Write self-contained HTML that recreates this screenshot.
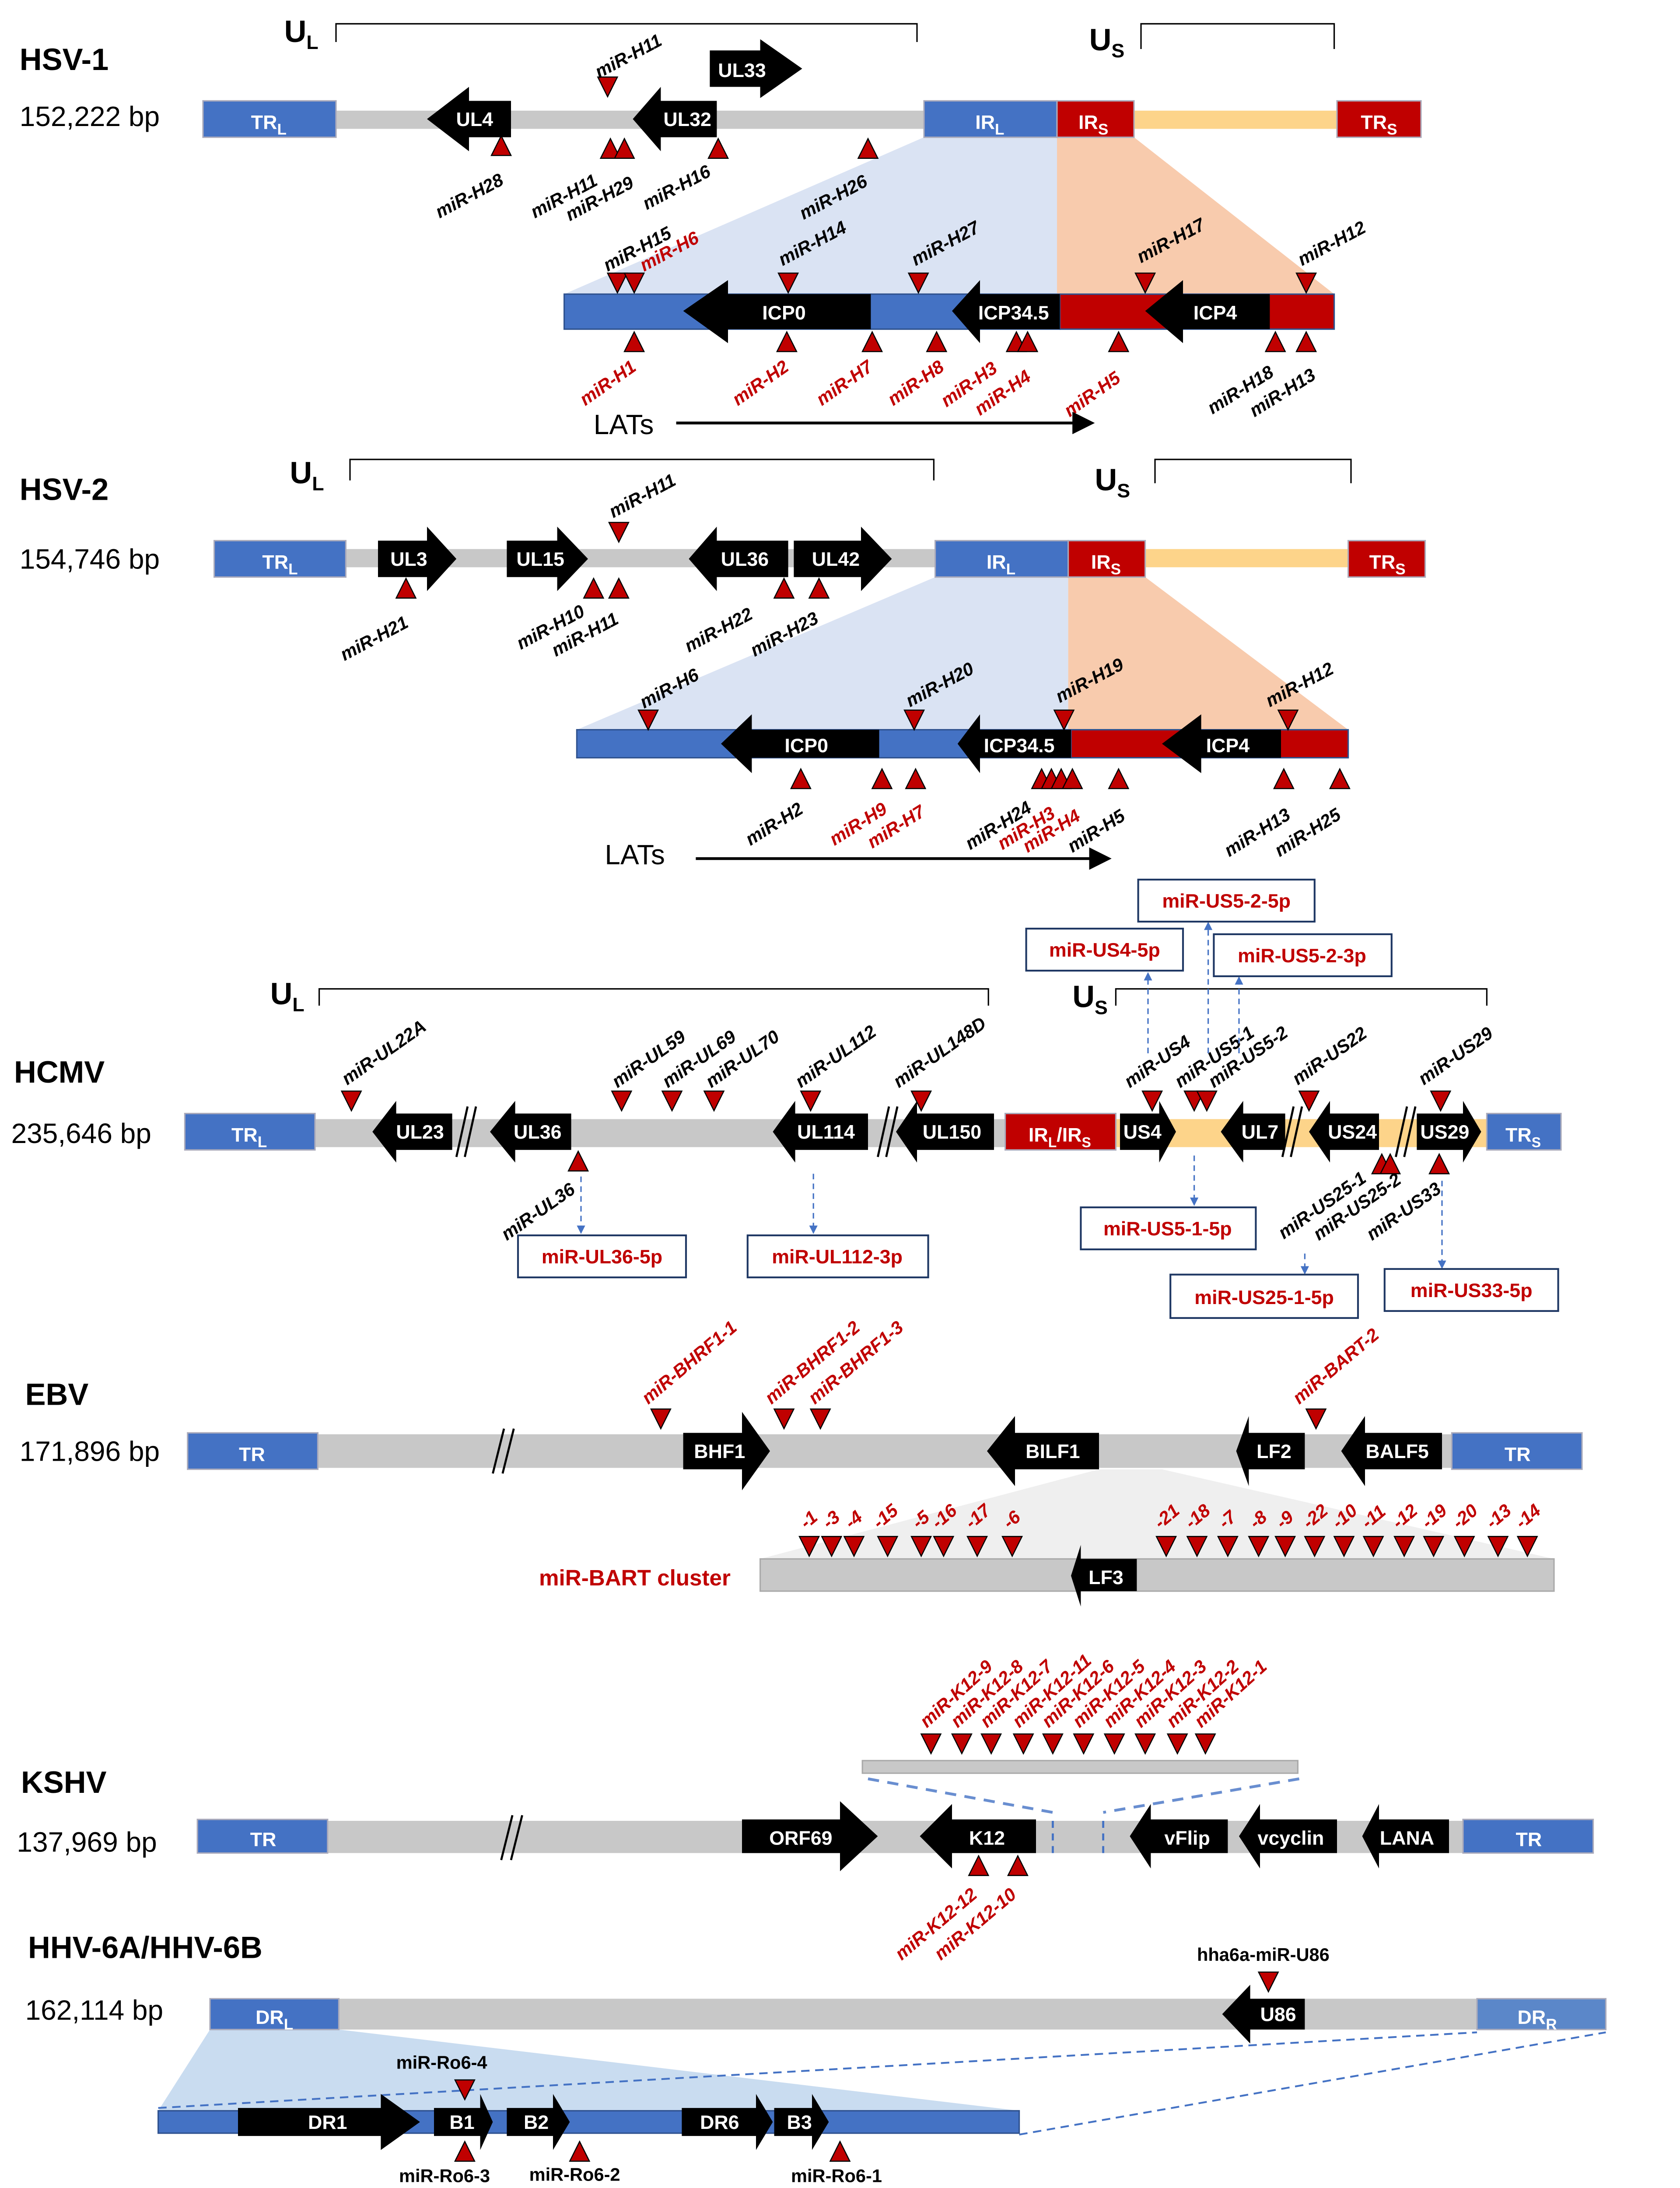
<!DOCTYPE html>
<html><head><meta charset="utf-8"><style>
html,body{margin:0;padding:0;background:#fff;overflow:hidden}
svg{display:block}
text{font-family:"Liberation Sans",sans-serif}
.t{font-weight:bold;font-size:22px}
.bp{font-size:20px}
.g{fill:#fff;font-weight:bold;font-size:14px;text-anchor:middle}
.m{font-weight:bold;font-style:italic;font-size:13px}
.r{fill:#c00000}
.bx{fill:#fff;stroke:#1f3864;stroke-width:1.3}
.bt{fill:#c00000;font-weight:bold;font-size:14px;text-anchor:middle}
.tri{fill:#c00000;stroke:#000;stroke-width:0.8}
.bb{fill:#c8c8c8}
.bl{fill:#4472c4;stroke:#aab;stroke-width:1}
.rd{fill:#c00000;stroke:#aab;stroke-width:1}
.da{stroke:#4472c4;stroke-width:1;stroke-dasharray:4,3;fill:none}
</style></head><body>
<svg width="3840" height="5230" viewBox="0 0 1200 1634" preserveAspectRatio="none" xmlns="http://www.w3.org/2000/svg">
<defs>
<marker id="ah" markerWidth="6" markerHeight="6" refX="3" refY="3" orient="auto"><path d="M0,0 L6,3 L0,6z" fill="#4472c4"/></marker>
<marker id="ak" markerWidth="8" markerHeight="8" refX="6" refY="4" orient="auto"><path d="M0,0 L8,4 L0,8z" fill="#000"/></marker>
<path id="dt" d="M-7,-7 L7,-7 L0,7z"/>
<path id="ut" d="M-7,7 L7,7 L0,-7z"/>
</defs>

<!-- ================= HSV-1 ================= -->
<text x="14" y="50" class="t">HSV-1</text>
<text x="14" y="90" class="bp">152,222 bp</text>
<path d="M240,30 L240,17 L655,17 L655,30" fill="none" stroke="#000" stroke-width="1"/>
<text x="203" y="30" font-size="22" font-weight="bold">U<tspan font-size="14" dy="5">L</tspan></text>
<path d="M815,35 L815,17 L953,17 L953,35" fill="none" stroke="#000" stroke-width="1"/>
<text x="778" y="36" font-size="22" font-weight="bold">U<tspan font-size="14" dy="5">S</tspan></text>
<polygon points="403,210 660,98 755,98 755,210" fill="#dae3f3"/>
<polygon points="755,98 810,98 953,210 755,210" fill="#f8cbad"/>
<rect x="240" y="79" width="420" height="13" class="bb"/>
<rect x="810" y="79" width="145" height="13" fill="#fdd48a"/>
<rect x="145" y="72" width="95" height="26" class="bl"/><text x="192" y="92" class="g" font-size="17">TR<tspan font-size="11" dy="4">L</tspan></text>
<rect x="660" y="72" width="95" height="26" class="bl"/><text x="707" y="92" class="g" font-size="17">IR<tspan font-size="11" dy="4">L</tspan></text>
<rect x="755" y="72" width="55" height="26" class="rd"/><text x="781" y="92" class="g" font-size="17">IR<tspan font-size="11" dy="4">S</tspan></text>
<rect x="955" y="72" width="60" height="26" class="rd"/><text x="985" y="92" class="g" font-size="17">TR<tspan font-size="11" dy="4">S</tspan></text>
<polygon points="305,85 335,62 335,72 365,72 365,98 335,98 335,108"/><text x="339" y="90" class="g">UL4</text>
<polygon points="452,85 472,62 472,72 512,72 512,98 472,98 472,108"/><text x="491" y="90" class="g">UL32</text>
<polygon points="507,36 543,36 543,28 573,49 543,70 543,62 507,62"/><text x="530" y="55" class="g">UL33</text>
<use href="#dt" x="434" y="62" class="tri"/>
<use href="#ut" x="358" y="104" class="tri"/><use href="#ut" x="436" y="106" class="tri"/><use href="#ut" x="446" y="106" class="tri"/><use href="#ut" x="513" y="106" class="tri"/><use href="#ut" x="620" y="106" class="tri"/>
<text class="m" transform="translate(428,56) rotate(-28)">miR-H11</text>
<text class="m" transform="translate(314,156) rotate(-28)">miR-H28</text>
<text class="m" transform="translate(382,156) rotate(-28)">miR-H11</text>
<text class="m" transform="translate(407,158) rotate(-28)">miR-H29</text>
<text class="m" transform="translate(462,150) rotate(-28)">miR-H16</text>
<text class="m" transform="translate(574,157) rotate(-28)">miR-H26</text>
<rect x="403" y="210" width="354" height="25" fill="#4472c4" stroke="#2f528f"/>
<rect x="757" y="210" width="196" height="25" fill="#c00000" stroke="#2f528f"/>
<polygon points="488,222 520,200 520,210 622,210 622,235 520,235 520,245"/><text x="560" y="228" class="g">ICP0</text>
<polygon points="680,222 700,200 700,210 757,210 757,235 700,235 700,245"/><text x="724" y="228" class="g">ICP34.5</text>
<polygon points="818,222 845,200 845,210 907,210 907,235 845,235 845,245"/><text x="868" y="228" class="g">ICP4</text>
<use href="#dt" x="441" y="202" class="tri"/><use href="#dt" x="453" y="202" class="tri"/><use href="#dt" x="563" y="202" class="tri"/><use href="#dt" x="656" y="202" class="tri"/><use href="#dt" x="818" y="202" class="tri"/><use href="#dt" x="933" y="202" class="tri"/>
<text class="m" transform="translate(434,194) rotate(-28)">miR-H15</text>
<text class="m r" transform="translate(460,194) rotate(-28)">miR-H6</text>
<text class="m" transform="translate(559,190) rotate(-28)">miR-H14</text>
<text class="m" transform="translate(654,190) rotate(-28)">miR-H27</text>
<text class="m" transform="translate(815,188) rotate(-28)">miR-H17</text>
<text class="m" transform="translate(930,190) rotate(-28)">miR-H12</text>
<use href="#ut" x="453" y="244" class="tri"/><use href="#ut" x="562" y="244" class="tri"/><use href="#ut" x="623" y="244" class="tri"/><use href="#ut" x="669" y="244" class="tri"/><use href="#ut" x="726" y="244" class="tri"/><use href="#ut" x="734" y="244" class="tri"/><use href="#ut" x="799" y="244" class="tri"/><use href="#ut" x="911" y="244" class="tri"/><use href="#ut" x="933" y="244" class="tri"/>
<text class="m r" transform="translate(418,290) rotate(-35)">miR-H1</text>
<text class="m r" transform="translate(527,290) rotate(-35)">miR-H2</text>
<text class="m r" transform="translate(587,290) rotate(-35)">miR-H7</text>
<text class="m r" transform="translate(638,290) rotate(-35)">miR-H8</text>
<text class="m r" transform="translate(676,291) rotate(-35)">miR-H3</text>
<text class="m r" transform="translate(700,297) rotate(-35)">miR-H4</text>
<text class="m r" transform="translate(764,298) rotate(-35)">miR-H5</text>
<text class="m" transform="translate(866,296) rotate(-32)">miR-H18</text>
<text class="m" transform="translate(896,298) rotate(-32)">miR-H13</text>
<text x="424" y="310" font-size="20">LATs</text>
<line x1="483" y1="302" x2="778" y2="302" stroke="#000" stroke-width="2" marker-end="url(#ak)"/>

<!-- ================= HSV-2 ================= -->
<text x="14" y="357" class="t">HSV-2</text>
<text x="14" y="406" class="bp">154,746 bp</text>
<path d="M250,343 L250,328 L667,328 L667,343" fill="none" stroke="#000"/>
<text x="207" y="345" font-size="22" font-weight="bold">U<tspan font-size="14" dy="5">L</tspan></text>
<path d="M825,345 L825,328 L965,328 L965,345" fill="none" stroke="#000"/>
<text x="782" y="350" font-size="22" font-weight="bold">U<tspan font-size="14" dy="5">S</tspan></text>
<polygon points="412,521 668,412 763,412 763,521" fill="#dae3f3"/>
<polygon points="763,412 818,412 963,521 763,521" fill="#f8cbad"/>
<rect x="247" y="392" width="421" height="13" class="bb"/>
<rect x="818" y="392" width="145" height="13" fill="#fdd48a"/>
<rect x="153" y="386" width="94" height="26" class="bl"/><text x="200" y="406" class="g" font-size="17">TR<tspan font-size="11" dy="4">L</tspan></text>
<rect x="668" y="386" width="95" height="26" class="bl"/><text x="715" y="406" class="g" font-size="17">IR<tspan font-size="11" dy="4">L</tspan></text>
<rect x="763" y="386" width="55" height="26" class="rd"/><text x="790" y="406" class="g" font-size="17">IR<tspan font-size="11" dy="4">S</tspan></text>
<rect x="963" y="386" width="55" height="26" class="rd"/><text x="991" y="406" class="g" font-size="17">TR<tspan font-size="11" dy="4">S</tspan></text>
<polygon points="270,386 305,386 305,376 326,399 305,422 305,412 270,412"/><text x="292" y="404" class="g">UL3</text>
<polygon points="362,386 398,386 398,376 420,399 398,422 398,412 362,412"/><text x="386" y="404" class="g">UL15</text>
<polygon points="492,399 512,376 512,386 563,386 563,412 512,412 512,422"/><text x="532" y="404" class="g">UL36</text>
<polygon points="567,386 615,386 615,376 637,399 615,422 615,412 567,412"/><text x="597" y="404" class="g">UL42</text>
<use href="#dt" x="442" y="380" class="tri"/>
<use href="#ut" x="290" y="420" class="tri"/><use href="#ut" x="424" y="420" class="tri"/><use href="#ut" x="442" y="420" class="tri"/><use href="#ut" x="560" y="420" class="tri"/><use href="#ut" x="585" y="420" class="tri"/>
<text class="m" transform="translate(438,370) rotate(-28)">miR-H11</text>
<text class="m" transform="translate(246,472) rotate(-28)">miR-H21</text>
<text class="m" transform="translate(372,464) rotate(-28)">miR-H10</text>
<text class="m" transform="translate(397,469) rotate(-28)">miR-H11</text>
<text class="m" transform="translate(492,466) rotate(-28)">miR-H22</text>
<text class="m" transform="translate(539,469) rotate(-28)">miR-H23</text>
<rect x="412" y="521" width="353" height="20" fill="#4472c4" stroke="#2f528f"/>
<rect x="765" y="521" width="198" height="20" fill="#c00000" stroke="#2f528f"/>
<polygon points="515,531 537,510 537,521 628,521 628,541 537,541 537,552"/><text x="576" y="537" class="g">ICP0</text>
<polygon points="684,531 700,510 700,521 765,521 765,541 700,541 700,552"/><text x="728" y="537" class="g">ICP34.5</text>
<polygon points="830,531 858,510 858,521 915,521 915,541 858,541 858,552"/><text x="877" y="537" class="g">ICP4</text>
<use href="#dt" x="463" y="514" class="tri"/><use href="#dt" x="653" y="514" class="tri"/><use href="#dt" x="760" y="514" class="tri"/><use href="#dt" x="920" y="514" class="tri"/>
<text class="m" transform="translate(460,506) rotate(-28)">miR-H6</text>
<text class="m" transform="translate(650,505) rotate(-28)">miR-H20</text>
<text class="m" transform="translate(757,502) rotate(-28)">miR-H19</text>
<text class="m" transform="translate(907,505) rotate(-28)">miR-H12</text>
<use href="#ut" x="572" y="556" class="tri"/><use href="#ut" x="630" y="556" class="tri"/><use href="#ut" x="654" y="556" class="tri"/><use href="#ut" x="744" y="556" class="tri"/><use href="#ut" x="751" y="556" class="tri"/><use href="#ut" x="758" y="556" class="tri"/><use href="#ut" x="766" y="556" class="tri"/><use href="#ut" x="799" y="556" class="tri"/><use href="#ut" x="917" y="556" class="tri"/><use href="#ut" x="957" y="556" class="tri"/>
<text class="m" transform="translate(536,604) rotate(-32)">miR-H2</text>
<text class="m r" transform="translate(596,604) rotate(-32)">miR-H9</text>
<text class="m r" transform="translate(623,606) rotate(-32)">miR-H7</text>
<text class="m" transform="translate(693,607) rotate(-32)">miR-H24</text>
<text class="m r" transform="translate(716,607) rotate(-32)">miR-H3</text>
<text class="m r" transform="translate(734,609) rotate(-32)">miR-H4</text>
<text class="m" transform="translate(766,609) rotate(-32)">miR-H5</text>
<text class="m" transform="translate(878,612) rotate(-32)">miR-H13</text>
<text class="m" transform="translate(914,612) rotate(-32)">miR-H25</text>
<text x="432" y="617" font-size="20">LATs</text>
<line x1="497" y1="613" x2="790" y2="613" stroke="#000" stroke-width="2" marker-end="url(#ak)"/>

<!-- ================= HCMV ================= -->
<text x="10" y="773" class="t">HCMV</text>
<text x="8" y="816" class="bp">235,646 bp</text>
<path d="M228,718 L228,706 L706,706 L706,718" fill="none" stroke="#000"/>
<text x="193" y="717" font-size="22" font-weight="bold">U<tspan font-size="14" dy="5">L</tspan></text>
<path d="M797,718 L797,706 L1062,706 L1062,718" fill="none" stroke="#000"/>
<text x="766" y="719" font-size="22" font-weight="bold">U<tspan font-size="14" dy="5">S</tspan></text>
<rect x="225" y="799" width="493" height="20" class="bb"/>
<rect x="797" y="799" width="265" height="20" fill="#fdd48a"/>
<rect x="132" y="795" width="93" height="26" class="bl"/><text x="178" y="815" class="g" font-size="17">TR<tspan font-size="11" dy="4">L</tspan></text>
<rect x="718" y="795" width="79" height="26" class="rd"/><text x="757" y="815" class="g" font-size="15">IR<tspan font-size="10" dy="4">L</tspan><tspan dy="-4">/IR</tspan><tspan font-size="10" dy="4">S</tspan></text>
<rect x="1062" y="795" width="53" height="26" class="bl"/><text x="1088" y="815" class="g" font-size="16">TR<tspan font-size="10" dy="4">S</tspan></text>
<g fill="#fff" stroke="#000" stroke-width="1.5">
<path d="M326,826 L334,790 M332,826 L340,790"/>
<path d="M627,826 L635,790 M633,826 L641,790"/>
<path d="M916,826 L924,790 M922,826 L930,790"/>
<path d="M997,826 L1005,790 M1003,826 L1011,790"/>
</g>
<polygon points="266,808 283,786 283,795 323,795 323,821 283,821 283,830"/><text x="300" y="813" class="g">UL23</text>
<polygon points="350,808 368,786 368,795 408,795 408,821 368,821 368,830"/><text x="384" y="813" class="g">UL36</text>
<polygon points="552,808 568,786 568,795 620,795 620,821 568,821 568,830"/><text x="590" y="813" class="g">UL114</text>
<polygon points="640,808 655,786 655,795 710,795 710,821 655,821 655,830"/><text x="680" y="813" class="g">UL150</text>
<polygon points="800,795 828,795 828,786 840,808 828,830 828,821 800,821"/><text x="816" y="813" class="g">US4</text>
<polygon points="872,808 888,786 888,795 918,795 918,821 888,821 888,830"/><text x="900" y="813" class="g">UL7</text>
<polygon points="935,808 950,786 950,795 985,795 985,821 950,821 950,830"/><text x="966" y="813" class="g">US24</text>
<polygon points="1012,795 1045,795 1045,786 1058,808 1045,830 1045,821 1012,821"/><text x="1032" y="813" class="g">US29</text>
<use href="#dt" x="251" y="786" class="tri"/><use href="#dt" x="444" y="786" class="tri"/><use href="#dt" x="480" y="786" class="tri"/><use href="#dt" x="510" y="786" class="tri"/><use href="#dt" x="579" y="786" class="tri"/><use href="#dt" x="658" y="786" class="tri"/><use href="#dt" x="823" y="786" class="tri"/><use href="#dt" x="853" y="786" class="tri"/><use href="#dt" x="862" y="786" class="tri"/><use href="#dt" x="935" y="786" class="tri"/><use href="#dt" x="1029" y="786" class="tri"/>
<text class="m" transform="translate(248,775) rotate(-35)">miR-UL22A</text>
<text class="m" transform="translate(441,777) rotate(-35)">miR-UL59</text>
<text class="m" transform="translate(477,777) rotate(-35)">miR-UL69</text>
<text class="m" transform="translate(508,777) rotate(-35)">miR-UL70</text>
<text class="m" transform="translate(572,777) rotate(-35)">miR-UL112</text>
<text class="m" transform="translate(642,777) rotate(-35)">miR-UL148D</text>
<text class="m" transform="translate(807,777) rotate(-35)">miR-US4</text>
<text class="m" transform="translate(843,777) rotate(-35)">miR-US5-1</text>
<text class="m" transform="translate(867,777) rotate(-35)">miR-US5-2</text>
<text class="m" transform="translate(927,775) rotate(-35)">miR-US22</text>
<text class="m" transform="translate(1017,775) rotate(-35)">miR-US29</text>
<use href="#ut" x="413" y="829" class="tri"/><use href="#ut" x="987" y="831" class="tri"/><use href="#ut" x="993" y="831" class="tri"/><use href="#ut" x="1028" y="831" class="tri"/>
<text class="m" transform="translate(362,886) rotate(-35)">miR-UL36</text>
<text class="m" transform="translate(917,885) rotate(-35)">miR-US25-1</text>
<text class="m" transform="translate(942,886) rotate(-35)">miR-US25-2</text>
<text class="m" transform="translate(980,886) rotate(-35)">miR-US33</text>
<line x1="820" y1="752" x2="820" y2="697" class="da" marker-end="url(#ah)"/>
<line x1="863" y1="752" x2="863" y2="661" class="da" marker-end="url(#ah)"/>
<line x1="885" y1="752" x2="885" y2="700" class="da" marker-end="url(#ah)"/>
<line x1="415" y1="840" x2="415" y2="878" class="da" marker-end="url(#ah)"/>
<line x1="581" y1="838" x2="581" y2="878" class="da" marker-end="url(#ah)"/>
<line x1="853" y1="825" x2="853" y2="858" class="da" marker-end="url(#ah)"/>
<line x1="932" y1="895" x2="932" y2="907" class="da" marker-end="url(#ah)"/>
<line x1="1030" y1="843" x2="1030" y2="903" class="da" marker-end="url(#ah)"/>
<rect x="813" y="628" width="126" height="30" class="bx"/><text x="876" y="648" class="bt">miR-US5-2-5p</text>
<rect x="733" y="663" width="112" height="30" class="bx"/><text x="789" y="683" class="bt">miR-US4-5p</text>
<rect x="867" y="667" width="127" height="30" class="bx"/><text x="930" y="687" class="bt">miR-US5-2-3p</text>
<rect x="370" y="882" width="120" height="30" class="bx"/><text x="430" y="902" class="bt">miR-UL36-5p</text>
<rect x="534" y="882" width="129" height="30" class="bx"/><text x="598" y="902" class="bt">miR-UL112-3p</text>
<rect x="772" y="862" width="125" height="30" class="bx"/><text x="834" y="882" class="bt">miR-US5-1-5p</text>
<rect x="836" y="910" width="134" height="31" class="bx"/><text x="903" y="931" class="bt">miR-US25-1-5p</text>
<rect x="989" y="906" width="124" height="30" class="bx"/><text x="1051" y="926" class="bt">miR-US33-5p</text>

<!-- ================= EBV ================= -->
<text x="18" y="1003" class="t">EBV</text>
<text x="14" y="1043" class="bp">171,896 bp</text>
<polygon points="785,1049 830,1049 1110,1113 543,1113" fill="#efefef"/>
<rect x="227" y="1024" width="810" height="24" class="bb"/>
<rect x="134" y="1023" width="93" height="26" class="bl"/><text x="180" y="1043" class="g" font-size="17" font-weight="normal">TR</text>
<rect x="1037" y="1023" width="93" height="26" class="bl"/><text x="1084" y="1043" class="g" font-size="17" font-weight="normal">TR</text>
<path d="M352,1052 L360,1020 M359,1052 L367,1020" stroke="#000" stroke-width="1.5"/>
<polygon points="488,1023 530,1023 530,1008 550,1036 530,1064 530,1049 488,1049"/><text x="514" y="1041" class="g">BHF1</text>
<polygon points="705,1036 725,1011 725,1023 785,1023 785,1049 725,1049 725,1061"/><text x="752" y="1041" class="g">BILF1</text>
<polygon points="883,1036 892,1011 892,1023 932,1023 932,1049 892,1049 892,1061"/><text x="910" y="1041" class="g">LF2</text>
<polygon points="958,1036 975,1011 975,1023 1030,1023 1030,1049 975,1049 975,1061"/><text x="998" y="1041" class="g">BALF5</text>
<use href="#dt" x="472" y="1013" class="tri"/><use href="#dt" x="560" y="1013" class="tri"/><use href="#dt" x="586" y="1013" class="tri"/><use href="#dt" x="940" y="1013" class="tri"/>
<text class="m r" transform="translate(463,1003) rotate(-40)">miR-BHRF1-1</text>
<text class="m r" transform="translate(551,1003) rotate(-40)">miR-BHRF1-2</text>
<text class="m r" transform="translate(582,1003) rotate(-40)">miR-BHRF1-3</text>
<text class="m r" transform="translate(928,1003) rotate(-40)">miR-BART-2</text>
<rect x="543" y="1113" width="567" height="23" fill="#c8c8c8" stroke="#aaa"/>
<polygon points="765,1125 772,1103 772,1113 812,1113 812,1136 772,1136 772,1147"/><text x="790" y="1131" class="g">LF3</text>
<text x="385" y="1132" fill="#c00000" font-weight="bold" font-size="16">miR-BART cluster</text>
<g class="tri">
<use href="#dt" x="578" y="1104"/><use href="#dt" x="594" y="1104"/><use href="#dt" x="610" y="1104"/><use href="#dt" x="634" y="1104"/><use href="#dt" x="658" y="1104"/><use href="#dt" x="674" y="1104"/><use href="#dt" x="698" y="1104"/><use href="#dt" x="723" y="1104"/>
<use href="#dt" x="833" y="1104"/><use href="#dt" x="855" y="1104"/><use href="#dt" x="877" y="1104"/><use href="#dt" x="899" y="1104"/><use href="#dt" x="918" y="1104"/><use href="#dt" x="939" y="1104"/><use href="#dt" x="960" y="1104"/><use href="#dt" x="981" y="1104"/><use href="#dt" x="1003" y="1104"/><use href="#dt" x="1024" y="1104"/><use href="#dt" x="1046" y="1104"/><use href="#dt" x="1070" y="1104"/><use href="#dt" x="1091" y="1104"/>
</g>
<g class="m r" font-size="12">
<text transform="translate(576,1092) rotate(-40)">-1</text><text transform="translate(592,1092) rotate(-40)">-3</text><text transform="translate(608,1092) rotate(-40)">-4</text><text transform="translate(628,1092) rotate(-40)">-15</text><text transform="translate(656,1092) rotate(-40)">-5</text><text transform="translate(670,1092) rotate(-40)">-16</text><text transform="translate(694,1092) rotate(-40)">-17</text><text transform="translate(721,1092) rotate(-40)">-6</text>
<text transform="translate(829,1092) rotate(-40)">-21</text><text transform="translate(851,1092) rotate(-40)">-18</text><text transform="translate(875,1092) rotate(-40)">-7</text><text transform="translate(897,1092) rotate(-40)">-8</text><text transform="translate(916,1092) rotate(-40)">-9</text><text transform="translate(935,1092) rotate(-40)">-22</text><text transform="translate(956,1092) rotate(-40)">-10</text><text transform="translate(977,1092) rotate(-40)">-11</text><text transform="translate(999,1092) rotate(-40)">-12</text><text transform="translate(1020,1092) rotate(-40)">-19</text><text transform="translate(1042,1092) rotate(-40)">-20</text><text transform="translate(1066,1092) rotate(-40)">-13</text><text transform="translate(1087,1092) rotate(-40)">-14</text>
</g>

<!-- ================= KSHV ================= -->
<text x="15" y="1280" class="t">KSHV</text>
<text x="12" y="1322" class="bp">137,969 bp</text>
<rect x="616" y="1257" width="311" height="9" fill="#c8c8c8" stroke="#aaa"/>
<g class="tri">
<use href="#dt" x="665" y="1245"/><use href="#dt" x="687" y="1245"/><use href="#dt" x="708" y="1245"/><use href="#dt" x="731" y="1245"/><use href="#dt" x="752" y="1245"/><use href="#dt" x="774" y="1245"/><use href="#dt" x="796" y="1245"/><use href="#dt" x="818" y="1245"/><use href="#dt" x="841" y="1245"/><use href="#dt" x="861" y="1245"/>
</g>
<g class="m r">
<text transform="translate(662,1234) rotate(-42)">miR-K12-9</text><text transform="translate(684,1234) rotate(-42)">miR-K12-8</text><text transform="translate(705,1234) rotate(-42)">miR-K12-7</text><text transform="translate(728,1234) rotate(-42)">miR-K12-11</text><text transform="translate(749,1234) rotate(-42)">miR-K12-6</text><text transform="translate(771,1234) rotate(-42)">miR-K12-5</text><text transform="translate(793,1234) rotate(-42)">miR-K12-4</text><text transform="translate(815,1234) rotate(-42)">miR-K12-3</text><text transform="translate(838,1234) rotate(-42)">miR-K12-2</text><text transform="translate(858,1234) rotate(-42)">miR-K12-1</text>
</g>
<path d="M620,1270 L752,1294 M928,1270 L788,1294" stroke="#4472c4" stroke-width="2" stroke-dasharray="8,6" fill="none" opacity="0.8"/>
<rect x="234" y="1300" width="811" height="23" class="bb"/>
<rect x="141" y="1299" width="93" height="24" class="bl"/><text x="188" y="1318" class="g" font-size="17" font-weight="normal">TR</text>
<rect x="1045" y="1299" width="93" height="24" class="bl"/><text x="1092" y="1318" class="g" font-size="17" font-weight="normal">TR</text>
<path d="M358,1328 L366,1296 M365,1328 L373,1296" stroke="#000" stroke-width="1.5"/>
<path d="M752,1300 L752,1323 M788,1300 L788,1323" stroke="#4472c4" stroke-width="1.5" stroke-dasharray="5,4"/>
<polygon points="530,1299 600,1299 600,1286 627,1311 600,1336 600,1323 530,1323"/><text x="572" y="1317" class="g">ORF69</text>
<polygon points="657,1311 680,1288 680,1299 740,1299 740,1323 680,1323 680,1334"/><text x="705" y="1317" class="g">K12</text>
<polygon points="807,1311 822,1288 822,1299 877,1299 877,1323 822,1323 822,1334"/><text x="848" y="1317" class="g">vFlip</text>
<polygon points="885,1311 900,1288 900,1299 955,1299 955,1323 900,1323 900,1334"/><text x="922" y="1317" class="g">vcyclin</text>
<polygon points="973,1311 985,1288 985,1299 1035,1299 1035,1323 985,1323 985,1334"/><text x="1005" y="1317" class="g">LANA</text>
<use href="#ut" x="699" y="1332" class="tri"/><use href="#ut" x="727" y="1332" class="tri"/>
<text class="m r" transform="translate(644,1400) rotate(-40)">miR-K12-12</text>
<text class="m r" transform="translate(672,1400) rotate(-40)">miR-K12-10</text>

<!-- ================= HHV-6 ================= -->
<text x="20" y="1398" class="t">HHV-6A/HHV-6B</text>
<text x="18" y="1442" class="bp">162,114 bp</text>
<polygon points="150,1449 242,1449 728,1507 113,1507" fill="#c9dcf0"/>
<rect x="242" y="1427" width="813" height="22" class="bb"/>
<rect x="150" y="1427" width="92" height="22" class="bl"/><text x="196" y="1445" class="g" font-size="17" font-weight="normal">DR<tspan font-size="11" dy="4">L</tspan></text>
<rect x="1055" y="1427" width="92" height="22" fill="#5b87c9" stroke="#aab"/><text x="1098" y="1445" class="g" font-size="17" font-weight="normal">DR<tspan font-size="11" dy="4">R</tspan></text>
<polygon points="873,1438 893,1417 893,1427 932,1427 932,1449 893,1449 893,1459"/><text x="913" y="1443" class="g">U86</text>
<use href="#dt" x="906" y="1415" class="tri"/>
<text x="855" y="1400" font-weight="bold" font-size="13">hha6a-miR-U86</text>
<path d="M113,1505 L1055,1451 M728,1524 L1147,1451" stroke="#4472c4" stroke-width="1.3" stroke-dasharray="6,4" fill="none"/>
<rect x="113" y="1507" width="615" height="16" fill="#4472c4" stroke="#2f528f"/>
<polygon points="170,1505 272,1505 272,1495 300,1515 272,1535 272,1525 170,1525"/><text x="234" y="1520" class="g">DR1</text>
<polygon points="310,1505 343,1505 343,1495 352,1515 343,1535 343,1525 310,1525"/><text x="330" y="1520" class="g">B1</text>
<polygon points="362,1505 395,1505 395,1495 407,1515 395,1535 395,1525 362,1525"/><text x="383" y="1520" class="g">B2</text>
<polygon points="487,1505 540,1505 540,1495 552,1515 540,1535 540,1525 487,1525"/><text x="514" y="1520" class="g">DR6</text>
<polygon points="553,1505 580,1505 580,1495 592,1515 580,1535 580,1525 553,1525"/><text x="571" y="1520" class="g">B3</text>
<use href="#dt" x="332" y="1492" class="tri"/>
<use href="#ut" x="332" y="1536" class="tri"/><use href="#ut" x="414" y="1536" class="tri"/><use href="#ut" x="600" y="1536" class="tri"/>
<text x="283" y="1477" font-weight="bold" font-size="13">miR-Ro6-4</text>
<text x="285" y="1558" font-weight="bold" font-size="13">miR-Ro6-3</text>
<text x="378" y="1557" font-weight="bold" font-size="13">miR-Ro6-2</text>
<text x="565" y="1558" font-weight="bold" font-size="13">miR-Ro6-1</text>
</svg>
</body></html>
